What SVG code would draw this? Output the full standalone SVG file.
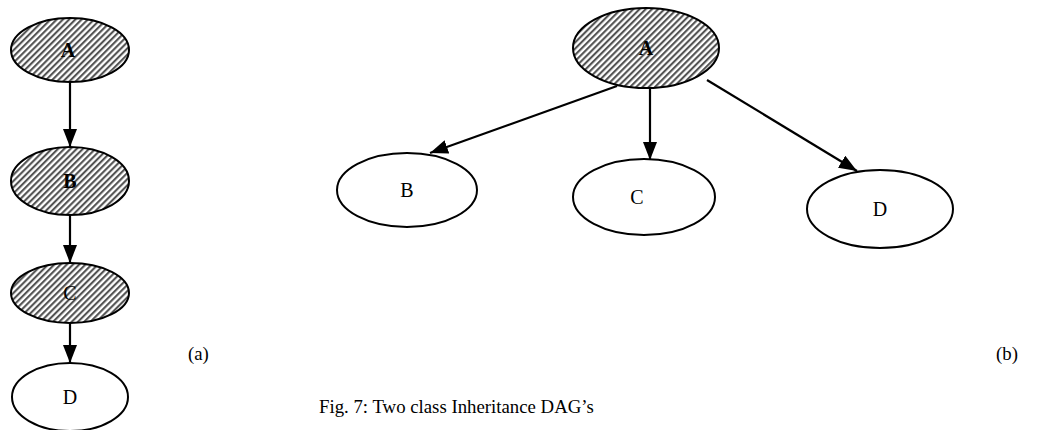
<svg xmlns="http://www.w3.org/2000/svg" width="1037" height="430" viewBox="0 0 1037 430">
<style>
.node{stroke:#000;stroke-width:2}
.plain{fill:#fff}
.hatch{fill:url(#hatch)}
.lbl{font-family:"Liberation Serif","Times New Roman",serif;font-size:20px;fill:#000;text-anchor:middle}
.b{font-weight:bold}
.edge{stroke:#000;stroke-width:2.2;fill:none;marker-end:url(#arr)}
.cap{font-family:"Liberation Serif","Times New Roman",serif;font-size:18.8px;fill:#000}
</style>
<defs>
<pattern id="hatch" patternUnits="userSpaceOnUse" width="4.4" height="4.4" patternTransform="rotate(45)">
<rect width="4.4" height="4.4" fill="#fff"/>
<line x1="1.1" y1="0" x2="1.1" y2="4.4" stroke="#4a4a4a" stroke-width="2"/>
</pattern>
<marker id="arr" markerUnits="userSpaceOnUse" markerWidth="20" markerHeight="16" refX="18" refY="7" orient="auto">
<path d="M0,0 L18,7 L0,14 Z" fill="#000"/>
</marker>
</defs>
<g id="connectors">
<line class="edge" x1="70" y1="82" x2="70" y2="147"/>
<line class="edge" x1="70" y1="215" x2="70" y2="263"/>
<line class="edge" x1="70" y1="323" x2="70" y2="363"/>
<line class="edge" x1="617" y1="86" x2="430" y2="153"/>
<line class="edge" x1="650" y1="88" x2="650" y2="160"/>
<line class="edge" x1="707" y1="80" x2="857" y2="171"/>
</g>
<g id="a1"><ellipse class="node hatch" cx="70" cy="50" rx="59" ry="32"/><text class="lbl b" x="68" y="57">A</text></g>
<g id="b1"><ellipse class="node hatch" cx="70" cy="181" rx="59" ry="34"/><text class="lbl b" x="70" y="188">B</text></g>
<g id="c1"><ellipse class="node hatch" cx="70" cy="293" rx="59" ry="30"/><text class="lbl" x="70" y="300">C</text></g>
<g id="d1"><ellipse class="node plain" cx="70" cy="397" rx="58" ry="34"/><text class="lbl" x="70" y="404">D</text></g>
<g id="a2"><ellipse class="node hatch" cx="646" cy="48" rx="73" ry="40"/><text class="lbl b" x="646" y="55">A</text></g>
<g id="b2"><ellipse class="node plain" cx="407" cy="190" rx="70" ry="37"/><text class="lbl" x="407" y="197">B</text></g>
<g id="c2"><ellipse class="node plain" cx="644" cy="197" rx="71" ry="38"/><text class="lbl" x="637" y="204">C</text></g>
<g id="d2"><ellipse class="node plain" cx="880" cy="209" rx="73" ry="39"/><text class="lbl" x="880" y="216">D</text></g>
<text class="cap" x="188" y="360">(a)</text>
<text class="cap" x="996" y="360">(b)</text>
<text class="cap" x="319" y="413">Fig. 7: Two class Inheritance DAG’s</text>
</svg>
